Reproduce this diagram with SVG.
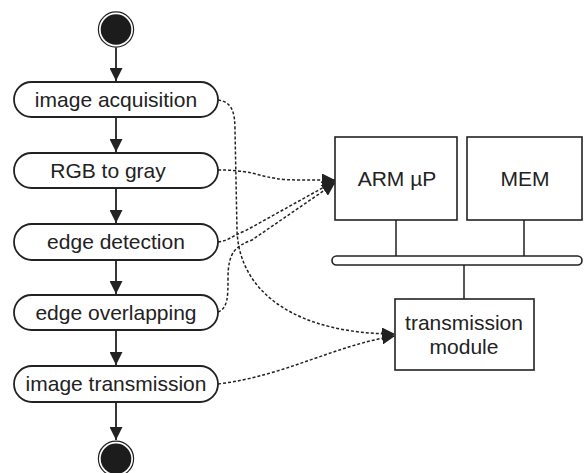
<svg xmlns="http://www.w3.org/2000/svg" width="585" height="473" viewBox="0 0 585 473">
  <style>
    .act { fill: #fff; stroke: #222; stroke-width: 1.8; }
    .box { fill: #fff; stroke: #222; stroke-width: 1.6; }
    .lbl { font-family: "Liberation Sans", Arial, sans-serif; font-size: 21px; fill: #222; text-anchor: middle; }
    .flow { fill: none; stroke: #222; stroke-width: 1.8; }
    .dep { fill: none; stroke: #222; stroke-width: 1.5; stroke-dasharray: 3 2; }
    .wire { fill: none; stroke: #222; stroke-width: 1.5; }
  </style>
  <defs>
    <marker id="head" viewBox="0 0 10 10" refX="10" refY="5" markerWidth="13" markerHeight="13" markerUnits="userSpaceOnUse" orient="auto">
      <path d="M0,0 L10,5 L0,10 Z" fill="#222"/>
    </marker>
  </defs>

  <!-- start / end pseudo-states -->
  <g id="start">
    <circle cx="116" cy="29.5" r="17.6" fill="#fff" stroke="#222" stroke-width="1.2"/>
    <circle cx="116" cy="29.5" r="15.3" fill="#1c1c1c"/>
  </g>
  <g id="end">
    <circle cx="116" cy="458.7" r="17.6" fill="#fff" stroke="#222" stroke-width="1.2"/>
    <circle cx="116" cy="458.7" r="15.3" fill="#1c1c1c"/>
  </g>

  <!-- activities -->
  <g id="acquisition">
    <rect class="act" x="14" y="82" width="204" height="35" rx="17.5"/>
    <text class="lbl" x="116" y="107">image acquisition</text>
  </g>
  <g id="rgb2gray">
    <rect class="act" x="14" y="153" width="204" height="35" rx="17.5"/>
    <text class="lbl" x="108" y="178">RGB to gray</text>
  </g>
  <g id="edgeDetection">
    <rect class="act" x="14" y="224" width="204" height="36" rx="18"/>
    <text class="lbl" x="116" y="249">edge detection</text>
  </g>
  <g id="edgeOverlapping">
    <rect class="act" x="14" y="295" width="204" height="35" rx="17.5"/>
    <text class="lbl" x="116" y="320">edge overlapping</text>
  </g>
  <g id="transmission">
    <rect class="act" x="14" y="366" width="204" height="36" rx="18"/>
    <text class="lbl" x="116" y="391">image transmission</text>
  </g>

  <!-- hardware blocks -->
  <g id="arm">
    <rect class="box" x="335" y="137" width="122" height="83"/>
    <text class="lbl" x="397" y="186">ARM µP</text>
  </g>
  <g id="mem">
    <rect class="box" x="467" y="137" width="115" height="83"/>
    <text class="lbl" x="525" y="186">MEM</text>
  </g>
  <g id="bus">
    <rect class="box" x="332" y="256" width="250" height="9" rx="4.5"/>
  </g>
  <g id="txModule">
    <rect class="box" x="395" y="299" width="139" height="71"/>
    <text class="lbl" x="464" y="330">transmission</text>
    <text class="lbl" x="464" y="354">module</text>
  </g>

  <g id="connectors">
    <!-- control flow -->
    <path class="flow" d="M116,47.5 V81" marker-end="url(#head)"/>
    <path class="flow" d="M116,117 V152" marker-end="url(#head)"/>
    <path class="flow" d="M116,188 V223" marker-end="url(#head)"/>
    <path class="flow" d="M116,260 V294" marker-end="url(#head)"/>
    <path class="flow" d="M116,330 V365" marker-end="url(#head)"/>
    <path class="flow" d="M116,402 V440" marker-end="url(#head)"/>

    <!-- bus wiring -->
    <path class="wire" d="M396,220 V256 M524,220 V256 M464,265 V299"/>

    <!-- task mapping (dotted) -->
    <path class="dep" d="M218,100 C232,102 235,112 235,130 L237,230 C239,295 300,334 395,334" marker-end="url(#head)"/>
    <path class="dep" d="M218,170 C262,170 258,180 300,180 L335,180" marker-end="url(#head)"/>
    <path class="dep" d="M218,242 C228,241 232,236 245,231 L335,181" marker-end="url(#head)"/>
    <path class="dep" d="M218,312 C228,308 228,296 228,278 C228,252 236,246 252,240 L335,183" marker-end="url(#head)"/>
    <path class="dep" d="M218,384 C285,376 335,345 395,336" marker-end="url(#head)"/>
  </g>
</svg>
